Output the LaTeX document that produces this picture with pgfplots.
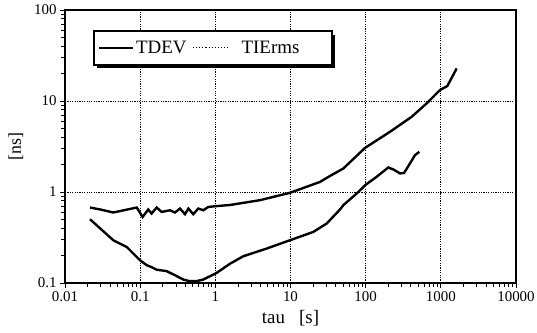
\documentclass[border=0pt]{standalone}
\usepackage{pgfplots}
\pgfplotsset{compat=1.18}
\usepackage{fontspec}
\setmainfont{Liberation Serif}
\begin{document}
\begin{tikzpicture}
\begin{axis}[
 name=main,
 scale only axis, width=451bp, height=273bp,
 xmode=log, ymode=log,
 xmin=0.01, xmax=10000, ymin=0.1, ymax=100,
 xtick={0.01,0.1,1,10,100,1000,10000},
 xticklabels={0.01,0.1,1,10,100,1000,10000},
 ytick={0.1,1,10,100}, yticklabels={0.1,1,10,100},
 minor xtick={0.02,0.03,0.04,0.05,0.06,0.07,0.08,0.09,
  0.2,0.3,0.4,0.5,0.6,0.7,0.8,0.9,2,3,4,5,6,7,8,9,
  20,30,40,50,60,70,80,90,200,300,400,500,600,700,800,900,
  2000,3000,4000,5000,6000,7000,8000,9000},
 minor ytick={0.2,0.3,0.4,0.5,0.6,0.7,0.8,0.9,2,3,4,5,6,7,8,9,20,30,40,50,60,70,80,90},
 tick pos=left, tick align=outside,
 major tick length=5bp, minor tick length=4bp,
 every tick/.style={black, line width=0.9pt},
 axis line style={line width=1.5pt},
 xmajorgrids, ymajorgrids,
 major grid style={black, line width=0.9pt, dash pattern=on 1.2pt off 1.2pt},
 tick label style={font=\fontsize{15}{15}\selectfont},
 xlabel={tau\ \ \ [s]}, ylabel={[ns]},
 xlabel style={font=\fontsize{19}{19}\selectfont, yshift=-2bp},
 ylabel style={font=\fontsize{18}{18}\selectfont, yshift=4bp},
 legend style={at={(0.072,0.861)}, anchor=west, legend columns=2,
   draw=none, fill=none, inner xsep=0bp, inner ysep=0bp,
   font=\fontsize{19}{19}\selectfont,
   /tikz/every even column/.append style={column sep=4bp}},
 legend image code/.code={\draw[#1] (0bp,0bp) -- (34bp,0bp);},
]
\fill[black] ([shift={(3.5bp,-3.5bp)}]rel axis cs:0.0643,0.799) rectangle ([shift={(3.5bp,-3.5bp)}]rel axis cs:0.592,0.923);
\draw[black, line width=1.3pt, fill=white] (rel axis cs:0.0643,0.799) rectangle (rel axis cs:0.592,0.923);
\addplot[black, line width=2.4pt] table {
0.0215 0.502
0.0439 0.295
0.0662 0.249
0.0993 0.178
0.122 0.157
0.140 0.150
0.166 0.140
0.225 0.135
0.30 0.120
0.375 0.109
0.45 0.105
0.565 0.105
0.69 0.109
1.04 0.129
1.57 0.163
2.36 0.197
4.82 0.239
9.84 0.295
20.1 0.364
30.3 0.45
45.5 0.642
50.4 0.716
76 0.963
100 1.2
140 1.47
200 1.86
233 1.77
286 1.60
324 1.62
389 2.06
453 2.54
517 2.76
};
\addlegendentry{TDEV}
\addlegendimage{black, line width=1.1pt, dotted}
\addlegendentry{\hspace{12bp}TIErms}
\addplot[black, line width=2.4pt, forget plot] table {
0.0215 0.675
0.030 0.64
0.0439 0.595
0.090 0.675
0.108 0.532
0.128 0.642
0.142 0.58
0.166 0.675
0.193 0.604
0.249 0.63
0.29 0.595
0.339 0.658
0.395 0.57
0.438 0.658
0.509 0.57
0.593 0.658
0.69 0.63
0.806 0.685
1.04 0.70
1.57 0.72
3.93 0.813
9.84 0.98
24.7 1.29
33.5 1.5
50.4 1.81
98 3.05
210 4.58
409 6.7
648 9.41
975 13.2
1220 14.6
1625 22.8
};
\end{axis}
\pgfresetboundingbox
\path[use as bounding box] ([xshift=-65bp,yshift=-50bp]main.south west) rectangle ([xshift=21bp,yshift=10bp]main.north east);
\end{tikzpicture}
\end{document}
